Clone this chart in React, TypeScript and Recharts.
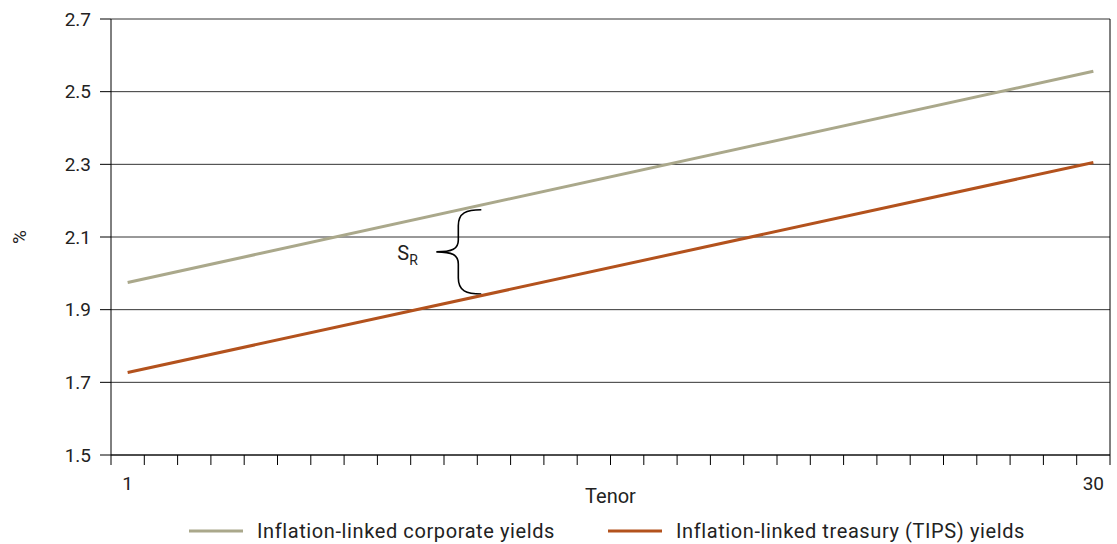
import React from 'react';
import {
  LineChart,
  Line,
  XAxis,
  YAxis,
  CartesianGrid,
  Legend,
  ReferenceLine,
} from 'recharts';

// Tenor endpoints (years) and yields in %
const TENORS = [1, 30];
const CORPORATE_YIELDS = [1.975, 2.556];
const TREASURY_YIELDS = [1.727, 2.305];

const TENOR_LABELS = [1, 30];
const Y_TICKS = [1.5, 1.7, 1.9, 2.1, 2.3, 2.5, 2.7];

// brace marking the real spread between the two curves
const SPREAD_TENOR = 10.93;
const SPREAD_TOP = 2.175;
const SPREAD_BOTTOM = 1.943;

const CORP_COLOR = '#aaa88b';
const TIPS_COLOR = '#b3521d';
const FONT = 'Roboto, "Noto Sans", sans-serif';
const TEXT = '#222';

const data = TENORS.map((t, i) => ({
  tenor: t,
  corporate: CORPORATE_YIELDS[i],
  treasury: TREASURY_YIELDS[i],
}));

// tick marks sit on the category boundaries, labels on the categories
const boundaries = Array.from({ length: 31 }, (_, i) => i + 0.5);
const xTicks = [...boundaries, ...TENOR_LABELS].sort((a, b) => a - b);

const TICK_LEN = 10;
const TICK_GAP = 12;

const XTick = (props: any) => {
  const { x, y, payload } = props;
  const v = payload.value;
  if (TENOR_LABELS.includes(v)) {
    return (
      <text x={x} y={y} dy="0.71em" textAnchor="middle" fontSize={19} fill={TEXT} fontFamily={FONT}>
        {v}
      </text>
    );
  }
  return <line x1={x} x2={x} y1={y - TICK_GAP - TICK_LEN} y2={y - TICK_GAP} stroke="#000" strokeWidth={1} />;
};

const Brace = (props: any) => {
  const { x1, y1, y2 } = props;
  const x = x1;
  const top = Math.min(y1, y2);
  const bot = Math.max(y1, y2);
  const mid = (top + bot) / 2;
  const d = [
    `M ${x + 23} ${top}`,
    `C ${x + 8} ${top}, ${x} ${top + 3}, ${x} ${top + 16}`,
    `L ${x} ${mid - 12}`,
    `C ${x} ${mid - 3}, ${x - 6} ${mid}, ${x - 22} ${mid}`,
    `C ${x - 6} ${mid}, ${x} ${mid + 3}, ${x} ${mid + 12}`,
    `L ${x} ${bot - 16}`,
    `C ${x} ${bot - 3}, ${x + 8} ${bot}, ${x + 23} ${bot}`,
  ].join(' ');
  return (
    <g>
      <path d={d} fill="none" stroke="#000" strokeWidth={1.6} />
      <text x={x - 61} y={mid + 8} fontSize={20} fill={TEXT} fontFamily={FONT}>
        S
        <tspan dy={5} fontSize={14}>R</tspan>
      </text>
    </g>
  );
};

const LegendContent = () => (
  <div
    style={{
      height: 39,
      display: 'flex',
      justifyContent: 'center',
      alignItems: 'center',
      paddingTop: 12,
      paddingLeft: 104,
      boxSizing: 'border-box',
      fontFamily: FONT,
      fontSize: 20,
      letterSpacing: 0.6,
      color: TEXT,
    }}
  >
    {[
      { label: 'Inflation-linked corporate yields', color: CORP_COLOR },
      { label: 'Inflation-linked treasury (TIPS) yields', color: TIPS_COLOR },
    ].map((item, i) => (
      <div key={item.label} style={{ display: 'flex', alignItems: 'center', marginLeft: i ? 53 : 0 }}>
        <svg width={54} height={4} style={{ marginRight: 14 }}>
          <line x1={0} x2={54} y1={2} y2={2} stroke={item.color} strokeWidth={3} />
        </svg>
        <span>{item.label}</span>
      </div>
    ))}
  </div>
);

export default function App() {
  return (
    <div style={{ position: 'absolute', left: 0, top: 0, background: '#fff' }}>
      <LineChart width={1117} height={544} data={data} margin={{ top: 19, right: 7, left: 0, bottom: 0 }}>
        <CartesianGrid vertical={false} stroke="#333" strokeWidth={1} />
        <XAxis
          dataKey="tenor"
          type="number"
          domain={[0.5, 30.5]}
          ticks={xTicks}
          interval={0}
          tick={<XTick />}
          tickLine={false}
          tickSize={TICK_LEN}
          tickMargin={TICK_GAP}
          axisLine={{ stroke: '#000' }}
          height={50}
          label={{ value: 'Tenor', position: 'insideBottom', offset: 2, fontSize: 20, fill: TEXT, fontFamily: FONT }}
        />
        <YAxis
          type="number"
          domain={[1.5, 2.7]}
          ticks={Y_TICKS}
          width={111}
          tickSize={11}
          tickMargin={9}
          tickFormatter={(v) => v.toFixed(1)}
          tick={{ fontSize: 19, fill: TEXT, fontFamily: FONT }}
          tickLine={{ stroke: '#000' }}
          axisLine={{ stroke: '#000' }}
          label={{
            content: ({ viewBox }: any) => {
              const cy = viewBox.y + viewBox.height / 2;
              return (
                <text
                  x={19}
                  y={cy}
                  transform={`rotate(-90, 19, ${cy})`}
                  textAnchor="middle"
                  dominantBaseline="central"
                  fontSize={19}
                  fill={TEXT}
                  fontFamily={FONT}
                >
                  %
                </text>
              );
            },
          }}
        />
        <ReferenceLine x={30.5} stroke="#000" strokeWidth={1} />
        <ReferenceLine
          segment={[
            { x: SPREAD_TENOR, y: SPREAD_TOP },
            { x: SPREAD_TENOR, y: SPREAD_BOTTOM },
          ]}
          shape={(p: any) => <Brace {...p} />}
        />
        <Line
          type="linear"
          dataKey="corporate"
          stroke={CORP_COLOR}
          strokeWidth={3}
          dot={false}
          isAnimationActive={false}
        />
        <Line
          type="linear"
          dataKey="treasury"
          stroke={TIPS_COLOR}
          strokeWidth={3}
          dot={false}
          isAnimationActive={false}
        />
        <Legend verticalAlign="bottom" height={39} content={<LegendContent />} />
      </LineChart>
    </div>
  );
}
